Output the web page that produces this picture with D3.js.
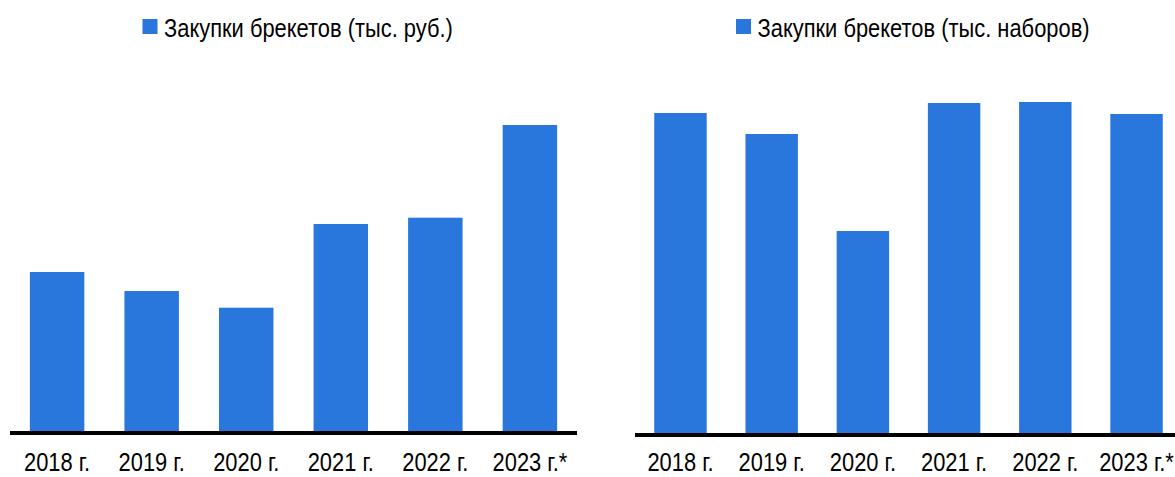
<!DOCTYPE html>
<html><head><meta charset="utf-8">
<script src="https://cdn.jsdelivr.net/npm/d3@7"></script>
<style>
html,body{margin:0;padding:0;background:#fff;}
svg text{font-family:"Liberation Sans",Arial,sans-serif;fill:#000;}
</style></head>
<body>
<svg id="c" width="1175" height="477"></svg>
<script>
const categories = ["2018 г.", "2019 г.", "2020 г.", "2021 г.", "2022 г.", "2023 г.*"];
const seriesRub = [1590, 1400, 1233, 2070, 2133, 3060];   // тыс. руб. (estimated)
const seriesSets = [320, 299, 202, 330, 331, 319];         // тыс. наборов (estimated)
const legendRub = "Закупки брекетов (тыс. руб.)";
const legendSets = "Закупки брекетов (тыс. наборов)";

const color = "#2977dd";
const FS = 26.7;
const sx = 0.82;   // condense Liberation Sans to Arial Narrow proportions
const svg = d3.select("#c");

function panel(cfg){
  const g = svg.append("g");
  const x = d3.scaleBand().domain(categories).range(cfg.xr).paddingInner(cfg.pi).paddingOuter(cfg.po);
  const y = d3.scaleLinear().domain([0, cfg.max]).range([cfg.base, cfg.base - cfg.h]);
  g.selectAll("rect.bar").data(cfg.values).join("rect").attr("class","bar")
    .attr("x",(d,i)=>x(categories[i])).attr("width",x.bandwidth())
    .attr("y",d=>y(d)).attr("height",d=>y(0)-y(d)).attr("fill",color);
  g.append("rect").attr("x",cfg.lx[0]).attr("width",cfg.lx[1]-cfg.lx[0])
    .attr("y",cfg.base).attr("height",4).attr("fill","#000");
  const ax = g.append("g").attr("transform",`translate(0,${cfg.labelY})`)
    .call(d3.axisBottom(x).tickSize(0).tickPadding(0));
  ax.select(".domain").remove();
  ax.selectAll("text").attr("dy",null).attr("y",0)
    .attr("transform",`scale(${sx},1)`)
    .style("font-size",FS+"px").attr("fill","#000");
  const lg = g.append("g").attr("transform",`translate(${cfg.legX},0)`);
  lg.append("rect").attr("x",0).attr("y",19).attr("width",15).attr("height",15).attr("fill",color);
  lg.append("text").attr("transform",`translate(21.5,37) scale(${sx},1)`)
    .style("font-size",FS+"px").text(cfg.legend);
}

panel({values:seriesRub, max:3500, h:350, base:431, xr:[10,577], pi:0.424, po:0.21,
  lx:[10,577], labelY:471, legX:142.5, legend:legendRub});
panel({values:seriesSets, max:350, h:350, base:433, xr:[636,1181], pi:0.425, po:0.2,
  lx:[635,1175], labelY:471, legX:736, legend:legendSets});
</script>
</body></html>
